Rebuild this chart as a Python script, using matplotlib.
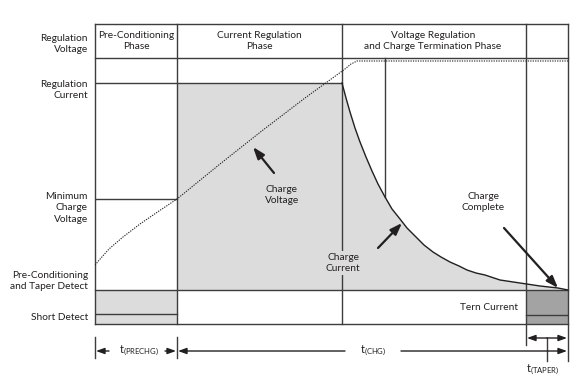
import matplotlib.pyplot as plt
from matplotlib.patches import Rectangle

plt.rcParams['font.family'] = ['Lato', 'DejaVu Sans']
plt.rcParams['mathtext.fontset'] = 'custom'
plt.rcParams['mathtext.rm'] = 'Lato'

# schematic time axis (arbitrary units) and signal levels
t_start, t_prechg, t_cc_end, t_cv_mark, t_taper, t_end = 0, 82, 247, 290, 431, 473
lvl_bottom, lvl_short, lvl_precond = 0, 10, 34
lvl_min_v, lvl_reg_i, lvl_reg_v, lvl_header, lvl_top = 125, 241, 263, 266, 300

# charge current decay
cur_t = [247, 251, 255, 260, 265, 271, 277, 283, 290, 297, 305, 312, 320, 329, 338,
         346, 355, 364, 372, 381, 390, 405, 425, 445, 463, 473]
cur_i = [241, 226, 212, 196, 182, 167, 153, 140, 127, 115, 105, 96, 88, 79, 72,
         67, 62, 58, 54, 51, 49, 44, 41, 38, 36, 34]

# charge voltage (dotted)
volt_t = [0, 6, 14, 28, 45, 64, 82, 125, 168, 210, 250, 256, 262, 473]
volt_v = [59, 66, 75, 87, 100, 113, 125, 160, 194, 226, 255, 260, 263, 263]

y_labels = ["Regulation\nVoltage", "Regulation\nCurrent", "Minimum\nCharge\nVoltage",
            "Pre-Conditioning\nand Taper Detect", "Short Detect"]
y_label_pos = [280, 234, 116, 43, 7]
phase_labels = ["Pre-Conditioning\nPhase", "Current Regulation\nPhase",
                "Voltage Regulation\nand Charge Termination Phase"]
phase_pos = [41, 164, 338]

line_c = '#3d3d3d'
ink = '#231f20'
light = '#dcdcdc'
dark = '#a3a3a3'

fig = plt.figure(figsize=(5.85, 3.85), dpi=100)
ax = fig.add_axes([95 / 585, 61 / 385, 473 / 585, 300 / 385])
ax.set_xlim(t_start, t_end)
ax.set_ylim(lvl_bottom, lvl_top)
ax.axis('off')

# shaded regions
ax.add_patch(Rectangle((t_prechg, lvl_precond), t_cc_end - t_prechg, lvl_reg_i - lvl_precond,
                       facecolor=light, edgecolor='none', zorder=1))
ax.fill_between(cur_t, lvl_precond, cur_i, facecolor=light, edgecolor='none', zorder=1)
ax.add_patch(Rectangle((t_start, lvl_bottom), t_prechg, lvl_precond,
                       facecolor=light, edgecolor='none', zorder=1))
ax.add_patch(Rectangle((t_taper, lvl_bottom), t_end - t_taper, lvl_precond,
                       facecolor=dark, edgecolor='none', zorder=1))

lw = 1.0
# frame and grid lines
for y in [lvl_top, lvl_header, lvl_precond, lvl_bottom]:
    ax.plot([t_start, t_end], [y, y], color=line_c, lw=lw, zorder=3, clip_on=False)
ax.plot([t_start, t_cc_end], [lvl_reg_i, lvl_reg_i], color=line_c, lw=lw, zorder=3)
ax.plot([t_start, t_prechg], [lvl_min_v, lvl_min_v], color=line_c, lw=lw, zorder=3)
ax.plot([t_start, t_prechg], [lvl_short, lvl_short], color=line_c, lw=lw, zorder=3)
ax.plot([t_taper, t_end], [lvl_short - 1, lvl_short - 1], color=line_c, lw=lw, zorder=3)
for x in [t_start, t_prechg, t_cc_end]:
    ax.plot([x, x], [lvl_bottom, lvl_top], color=line_c, lw=lw, zorder=3, clip_on=False)
ax.plot([t_taper, t_taper], [-21, lvl_top], color=line_c, lw=lw, zorder=3, clip_on=False)
ax.plot([t_end, t_end], [-37, lvl_top], color=line_c, lw=lw, zorder=3, clip_on=False)
ax.plot([t_cv_mark, t_cv_mark], [127, lvl_header], color=line_c, lw=lw, zorder=2)

# curves
ax.plot(cur_t, cur_i, color=ink, lw=1.0, zorder=4, solid_joinstyle='round')
ax.plot(volt_t, volt_v, color=ink, lw=0.8, ls=(0, (1.1, 1.1)), zorder=4)

fs = 7.3
for lab, y in zip(y_labels, y_label_pos):
    ax.text(-7, y, lab, ha='right', va='center', fontsize=fs, color=ink,
            linespacing=1.35, clip_on=False)
for lab, x in zip(phase_labels, phase_pos):
    ax.text(x, 283, lab, ha='center', va='center', fontsize=fs, color=ink, linespacing=1.35)

ax.text(187, 129, "Charge\nVoltage", ha='center', va='center', fontsize=fs, color=ink,
        linespacing=1.35, zorder=5)
ax.text(248, 61, "Charge\nCurrent", ha='center', va='center', fontsize=fs, color=ink,
        linespacing=1.35, zorder=5,
        bbox=dict(facecolor=light, edgecolor='none', pad=1.5))
ax.text(388, 122, "Charge\nComplete", ha='center', va='center', fontsize=fs, color=ink,
        linespacing=1.35, zorder=5)
ax.text(423, 16, "Tern Current", ha='right', va='center', fontsize=fs, color=ink, zorder=5)

# pointer arrows
arrow_tails = [(179, 151), (283, 76), (409, 96)]
arrow_heads = [(158, 177), (307, 101), (463, 36)]
for tail, head in zip(arrow_tails, arrow_heads):
    ax.annotate("", xy=head, xytext=tail, zorder=6,
                arrowprops=dict(arrowstyle='-|>,head_length=0.7,head_width=0.25',
                                color=ink, lw=1.6, shrinkA=0, shrinkB=0))

# timing annotations
tprops = dict(arrowstyle='-|>,head_length=0.5,head_width=0.18', color=ink, lw=1.0,
              shrinkA=0, shrinkB=0)
y_t = -27
for x in [t_start, t_prechg]:
    ax.plot([x, x], [-13, -34], color=line_c, lw=lw, clip_on=False)
ax.annotate("", xy=(t_start + 1, y_t), xytext=(t_start + 14, y_t), arrowprops=tprops,
            annotation_clip=False)
ax.annotate("", xy=(t_prechg - 1, y_t), xytext=(t_prechg - 12, y_t), arrowprops=tprops,
            annotation_clip=False)
ax.text(44, y_t, r"t$_{\mathregular{(PRECHG)}}$", ha='center', va='center', fontsize=fs + 0.5,
        color=ink, clip_on=False)
ax.annotate("", xy=(t_prechg + 1, y_t), xytext=(250, y_t), arrowprops=tprops,
            annotation_clip=False)
ax.annotate("", xy=(t_end - 1, y_t), xytext=(306, y_t), arrowprops=tprops,
            annotation_clip=False)
ax.text(278, y_t, r"t$_{\mathregular{(CHG)}}$", ha='center', va='center', fontsize=fs + 0.5,
        color=ink, clip_on=False)

y_tp = -14
ax.annotate("", xy=(t_taper + 1, y_tp), xytext=(452, y_tp), arrowprops=tprops,
            annotation_clip=False)
ax.annotate("", xy=(t_end - 1, y_tp), xytext=(452, y_tp), arrowprops=tprops,
            annotation_clip=False)
ax.plot([452, 452], [y_tp, -37], color=line_c, lw=lw, clip_on=False)
ax.text(448, -46, r"t$_{\mathregular{(TAPER)}}$", ha='center', va='center', fontsize=fs + 0.5,
        color=ink, clip_on=False)

fig.savefig("out.png", dpi=100)
